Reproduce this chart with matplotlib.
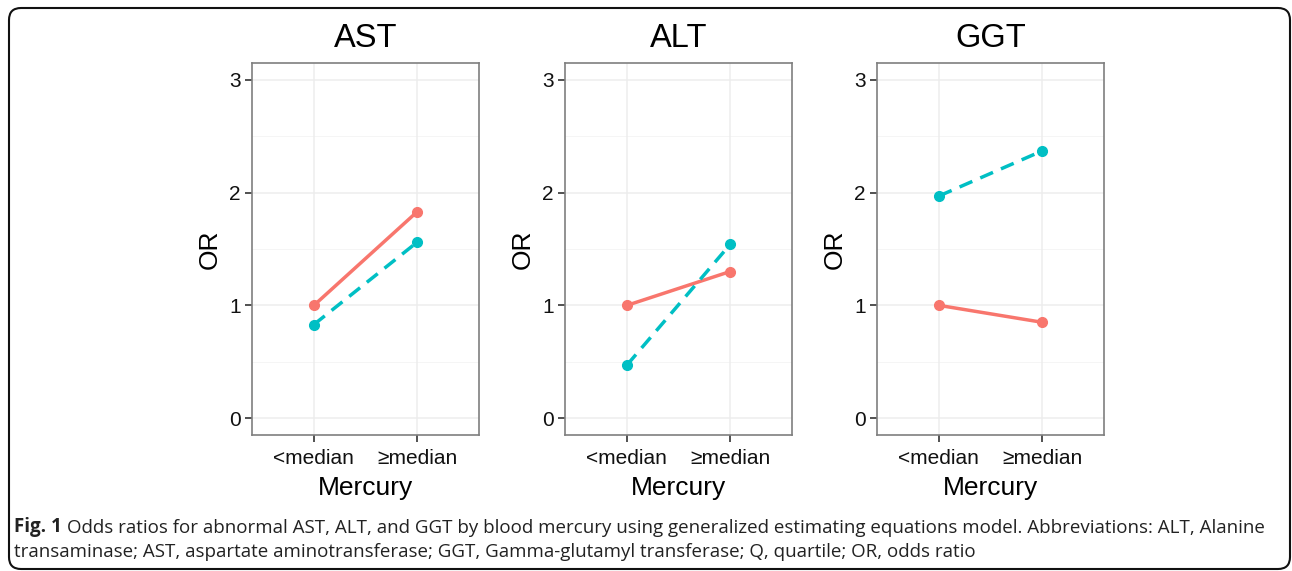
import matplotlib
matplotlib.use("Agg")
import matplotlib.pyplot as plt
import matplotlib.patches as mpatches
from matplotlib.transforms import IdentityTransform

# data
panels = ["AST", "ALT", "GGT"]
groups = ["<median", "≥median"]
or_red = {"AST": [1.00, 1.83], "ALT": [1.00, 1.30], "GGT": [1.00, 0.85]}
or_cyan = {"AST": [0.83, 1.56], "ALT": [0.47, 1.54], "GGT": [1.97, 2.37]}
yticks = [0, 1, 2, 3]

RED = "#F8766D"
CYAN = "#00BFC4"

plt.rcParams["font.family"] = ["Liberation Sans", "DejaVu Sans"]

fig = plt.figure(figsize=(12.92, 5.71), dpi=100)

W, H = 1292, 571
lefts = [252, 565, 877]
ax_w, ax_top, ax_bot = 227, 63, 435

xpos = [1, 2]
for name, left in zip(panels, lefts):
    ax = fig.add_axes([left / W, 1 - ax_bot / H, ax_w / W, (ax_bot - ax_top) / H])
    ax.set_xlim(0.4, 2.6)
    ax.set_ylim(-0.15, 3.15)

    # ggplot-like grid
    for y in [0.5, 1.5, 2.5]:
        ax.axhline(y, color="#F4F4F4", lw=0.6, zorder=0)
    for y in yticks:
        ax.axhline(y, color="#EDEDED", lw=1.1, zorder=0)
    for x in xpos:
        ax.axvline(x, color="#EDEDED", lw=1.1, zorder=0)

    ax.plot(xpos, or_red[name], color=RED, lw=2.5, marker="o", ms=7,
            solid_capstyle="butt", zorder=3)
    ax.plot(xpos, or_cyan[name], color=CYAN, lw=2.5, marker="o", ms=7,
            dashes=(4, 2.5), zorder=3)

    ax.set_xticks(xpos)
    ax.set_xticklabels(groups)
    ax.set_yticks(yticks)
    ax.tick_params(axis="both", length=5, width=1.2, color="#333333",
                   labelsize=15, labelcolor="#111111", pad=3)
    ax.tick_params(axis="x", pad=5)
    for s in ax.spines.values():
        s.set_color("#7F7F7F")
        s.set_linewidth(1.2)

    ax.set_xlabel("Mercury", fontsize=19, labelpad=6)
    ax.set_ylabel("OR", fontsize=19, labelpad=5)
    ax.text(0.5, 1.067, name, transform=ax.transAxes, ha="center",
            va="center", fontsize=23.5)

# caption
cap_font = ["Open Sans", "DejaVu Sans"]
t1 = fig.text(14 / W, 1 - 537 / H, "Fig. 1", fontsize=13.5, fontweight="bold",
              family=cap_font, va="bottom", color="#222222")
fig.add_artist(plt.Annotation(
    "Odds ratios for abnormal AST, ALT, and GGT by blood mercury using "
    "generalized estimating equations model. Abbreviations: ALT, Alanine",
    xy=(1, 0), xycoords=t1, xytext=(4, 0), textcoords="offset points",
    fontsize=13.5, family=cap_font, va="bottom", ha="left", color="#222222"))
fig.text(14 / W, 1 - 561 / H,
         "transaminase; AST, aspartate aminotransferase; GGT, Gamma-glutamyl "
         "transferase; Q, quartile; OR, odds ratio",
         fontsize=13.5, family=cap_font, va="bottom", color="#222222")

# rounded frame around the figure
frame = mpatches.FancyBboxPatch((9, 2), 1281, 561,
                                boxstyle="round,pad=0,rounding_size=12",
                                transform=IdentityTransform(), fill=False,
                                ec="#111111", lw=1.5)
fig.add_artist(frame)

fig.savefig("out.png", dpi=100)
